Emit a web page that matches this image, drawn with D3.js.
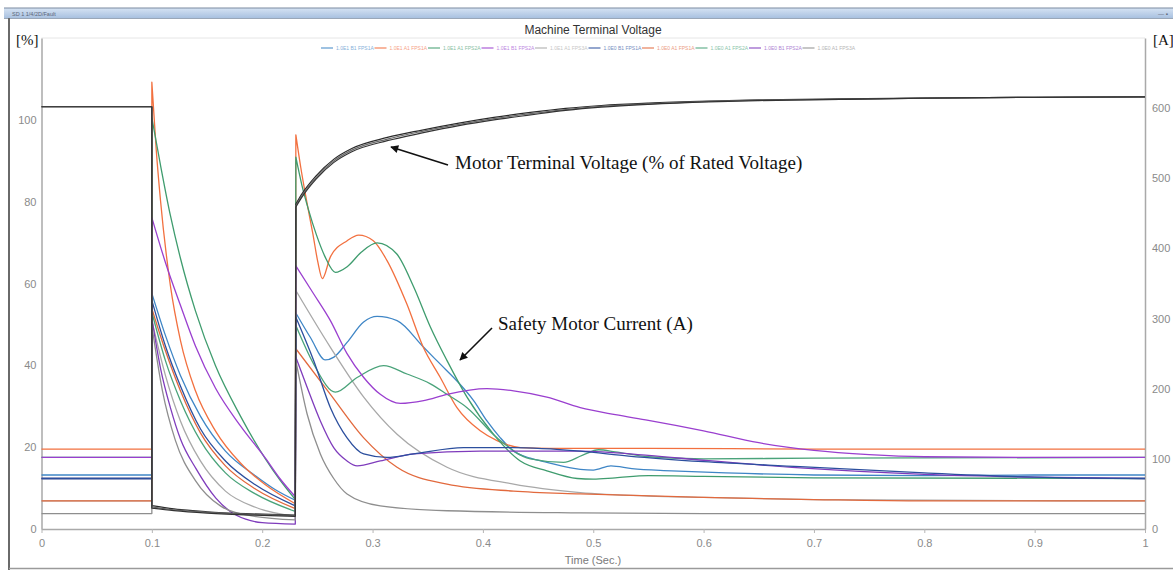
<!DOCTYPE html>
<html><head><meta charset="utf-8">
<script src="https://cdn.jsdelivr.net/npm/d3@7"></script>
<style>
body{margin:0;background:#fff;}
svg{display:block;}
</style>
</head><body>
<svg id="chart" width="1173" height="570"></svg>
<script>
// ---- axis ticks ----
const timeTicks = [0, 0.1, 0.2, 0.3, 0.4, 0.5, 0.6, 0.7, 0.8, 0.9, 1];
const timeTickLabels = ["0", "0.1", "0.2", "0.3", "0.4", "0.5", "0.6", "0.7", "0.8", "0.9", "1"];
const percentTicks = [0, 20, 40, 60, 80, 100];
const ampTicks = [0, 100, 200, 300, 400, 500, 600];

// ---- legend ----
const seriesNames = ["1.0E1 B1 FPS1A", "1.0E1 A1 FPS1A", "1.0E1 A1 FPS2A", "1.0E1 B1 FPS2A", "1.0E1 A1 FPS3A",
                     "1.0E0 B1 FPS1A", "1.0E0 A1 FPS1A", "1.0E0 A1 FPS2A", "1.0E0 B1 FPS2A", "1.0E0 A1 FPS3A"];
const seriesColors = ["#3f86c6", "#f2703f", "#3f9c6e", "#9a3fcf", "#a8a8a8",
                      "#2c4f9e", "#e2693d", "#4aa37a", "#7f3cbc", "#8e8e8e"];
// stacking order of the current traces (last one on top)
const drawOrder = [0, 1, 2, 4, 6, 7, 3, 8, 5, 9];

// ---- motor currents [A]: steady value before the fault ----
const preFaultAmps = [77, 114, 72, 102, 40, 72, 40, 102, 72, 22];

// ---- motor currents [A] during the fault, [time s, A] ----
const faultAmps = [
  [[0.1,336],[0.1123,276],[0.1259,219],[0.144,161],[0.1667,111],[0.1938,76],[0.212,56],[0.23,41]],
  [[0.1,637],[0.104,540],[0.1078,469],[0.1168,347],[0.1259,269],[0.1395,197],[0.1576,140],[0.1803,94],[0.2029,63],[0.23,36]],
  [[0.1,586],[0.1078,519],[0.1168,447],[0.1259,386],[0.1395,311],[0.1576,233],[0.1803,161],[0.2029,100],[0.216,70],[0.23,42]],
  [[0.1,444],[0.1123,380],[0.1259,319],[0.1395,261],[0.1576,201],[0.1803,147],[0.2029,101],[0.216,72],[0.23,46]],
  [[0.1,297],[0.1123,219],[0.1259,154],[0.144,97],[0.1667,54],[0.1938,31],[0.23,18]],
  [[0.1,326],[0.1123,261],[0.1259,204],[0.144,143],[0.1667,97],[0.1938,63],[0.23,33]],
  [[0.1,314],[0.1123,254],[0.1259,197],[0.144,137],[0.1667,90],[0.1938,57],[0.23,29]],
  [[0.1,309],[0.1123,240],[0.1259,183],[0.144,126],[0.1667,80],[0.1938,50],[0.23,25]],
  [[0.1,300],[0.108,228],[0.117,172],[0.126,128],[0.14,86],[0.158,44],[0.171,25],[0.185,14],[0.2,9],[0.23,7]],
  [[0.1,290],[0.1096,197],[0.1214,126],[0.1395,69],[0.1621,33],[0.1893,19],[0.23,13]]
];

// ---- motor currents [A] after fault clearing, [time s, A] ----
const postAmps = [
  [[0.2305,308],[0.2437,273],[0.2572,241],[0.265,245],[0.2769,266],[0.2919,295],[0.3041,303],[0.3222,297],[0.3463,259],[0.3614,235],[0.3765,211],[0.3916,183],[0.4037,154],[0.4158,130],[0.4278,111],[0.443,101],[0.458,95],[0.4882,85],[0.5,84],[0.516,90],[0.535,86],[0.571,83],[0.62,80],[0.7,77],[0.8,76],[0.9,77],[1,77]],
  [[0.2305,562],[0.235,515],[0.24,470],[0.246,420],[0.2505,380],[0.2545,357],[0.2618,388],[0.277,411],[0.2874,419],[0.3007,411],[0.313,383],[0.331,321],[0.346,259],[0.3614,216],[0.3765,173],[0.3976,140],[0.4128,126],[0.434,116],[0.46,115],[0.55,115],[0.7,114],[1,114]],
  [[0.2305,530],[0.236,490],[0.242,455],[0.249,420],[0.257,388],[0.2663,366],[0.277,374],[0.29,395],[0.3041,408],[0.322,392],[0.3373,345],[0.3524,288],[0.3675,240],[0.3856,188],[0.4097,135],[0.4339,97],[0.458,83],[0.4855,72],[0.5,71],[0.52,73],[0.55,76],[0.6,75],[0.7,73],[1,72]],
  [[0.2305,375],[0.2467,335],[0.2618,297],[0.2769,250],[0.292,216],[0.307,192],[0.3252,179],[0.3463,183],[0.3675,192],[0.4037,200],[0.4278,197],[0.458,188],[0.4882,173],[0.52,163],[0.55,155],[0.6,140],[0.65,123],[0.7,112],[0.75,106],[0.8,103],[0.9,102],[1,102]],
  [[0.2305,340],[0.2618,259],[0.292,188],[0.3222,135],[0.3675,88],[0.4278,64],[0.4882,52],[0.55,47],[0.6,45],[0.7,42],[0.8,41],[1,40]],
  [[0.2305,302],[0.2467,240],[0.2618,173],[0.2769,130],[0.292,107],[0.313,102],[0.3373,107],[0.3825,116],[0.4278,116],[0.4882,111],[0.532,104],[0.6,96],[0.6875,89],[0.8,80],[0.9,74],[1,72]],
  [[0.2305,257],[0.2618,192],[0.292,130],[0.3222,88],[0.3675,64],[0.4278,54],[0.4882,50],[0.6,45],[0.7,42],[0.8,40],[1,40]],
  [[0.2305,290],[0.2467,235],[0.2663,195],[0.286,216],[0.31,233],[0.3312,221],[0.3524,207],[0.3675,192],[0.3856,173],[0.4128,130],[0.443,100],[0.4731,95],[0.49,105],[0.505,113],[0.52,110],[0.55,103],[0.6,100],[0.7,101],[1,102]],
  [[0.2305,245],[0.2407,202],[0.2527,154],[0.2648,116],[0.2769,97],[0.286,90],[0.307,97],[0.3373,107],[0.3976,111],[0.4882,111],[0.55,105],[0.6,98],[0.6875,87],[0.8,78],[0.9,74],[1,72]],
  [[0.2305,240],[0.2407,164],[0.2527,107],[0.2648,72],[0.2769,50],[0.307,33],[0.3675,26],[0.4882,23],[0.6,22],[1,22]]
];

// ---- motor terminal voltage [% of rated] ----
const preFaultVolts = [103.2, 103.2, 103.2];
const faultVolts = [
  [[0.1,5.7],[0.12,4.9],[0.15,4.2],[0.19,3.7],[0.23,3.4]],
  [[0.1,5.4],[0.12,4.7],[0.15,4.1],[0.19,3.6],[0.23,3.3]],
  [[0.1,5.1],[0.12,4.5],[0.15,3.9],[0.19,3.4],[0.23,3.1]]
];
const postVolts = [
  [[0.2305,79.4],[0.236,81.9],[0.2488,86.3],[0.265,90.4],[0.2812,93.0],[0.3134,95.7],[0.345,97.5],[0.3783,99.2],[0.41,100.6],[0.443,101.8],[0.475,102.8],[0.5072,103.5],[0.55,104.1],[0.6047,104.6],[0.65,104.9],[0.7237,105.1],[0.8,105.3],[0.9,105.5],[1,105.6]],
  [[0.2305,79.0],[0.236,81.5],[0.2488,85.9],[0.265,90.0],[0.2812,92.6],[0.3134,95.3],[0.345,97.2],[0.3783,98.9],[0.41,100.3],[0.443,101.5],[0.475,102.5],[0.5072,103.3],[0.55,103.9],[0.6047,104.5],[0.65,104.8],[0.7237,105.0],[0.8,105.3],[0.9,105.5],[1,105.6]],
  [[0.2305,78.7],[0.236,81.1],[0.2488,85.5],[0.265,89.6],[0.2812,92.2],[0.3134,94.9],[0.345,96.8],[0.3783,98.6],[0.41,100.0],[0.443,101.2],[0.475,102.3],[0.5072,103.1],[0.55,103.8],[0.6047,104.4],[0.65,104.7],[0.7237,105.0],[0.8,105.3],[0.9,105.5],[1,105.6]]
];
const voltColors = ["#2a2a2a", "#6a6a6a", "#333333"];

// ---- layout ----
const svg = d3.select("#chart");
const plot = {left: 41.5, right: 1145, top: 38, bottom: 529};
const x = d3.scaleLinear().domain([0, 1]).range([plot.left, plot.right]);
const yPct = d3.scaleLinear().domain([0, 120]).range([plot.bottom, plot.top]);
const yAmp = d3.scaleLinear().domain([0, 700]).range([plot.bottom, plot.top]);
const sans = "Liberation Sans, Arial, sans-serif";
const serif = "Liberation Serif, Times New Roman, serif";

// window frame
const defs = svg.append("defs");
const grad = defs.append("linearGradient").attr("id", "bar").attr("x1", 0).attr("y1", 0).attr("x2", 0).attr("y2", 1);
grad.append("stop").attr("offset", "0%").attr("stop-color", "#d6e3f3");
grad.append("stop").attr("offset", "100%").attr("stop-color", "#a9c1e0");
svg.append("rect").attr("x", 4).attr("y", 8).attr("width", 1169).attr("height", 10).attr("fill", "url(#bar)");
svg.append("line").attr("x1", 4).attr("x2", 1173).attr("y1", 8).attr("y2", 8).attr("stroke", "#7a8aa0").attr("stroke-width", 1);
svg.append("line").attr("x1", 4).attr("x2", 1173).attr("y1", 18.5).attr("y2", 18.5).attr("stroke", "#9aa7b8").attr("stroke-width", 1);
svg.append("text").attr("x", 12).attr("y", 15.5).attr("font-family", sans).attr("font-size", 5.5).attr("fill", "#5a6578").text("SD 1 1/4/2D/Fault");
svg.append("text").attr("x", 1158).attr("y", 15.5).attr("font-family", sans).attr("font-size", 6).attr("fill", "#5a6578").text("— ▪");
svg.append("line").attr("x1", 9).attr("x2", 9).attr("y1", 18).attr("y2", 570).attr("stroke", "#6a6a6a").attr("stroke-width", 2);
svg.append("line").attr("x1", 9).attr("x2", 1173).attr("y1", 568.5).attr("y2", 568.5).attr("stroke", "#9a9a9a").attr("stroke-width", 1.5);

// plot top border
svg.append("line").attr("x1", plot.left).attr("x2", plot.right).attr("y1", plot.top).attr("y2", plot.top)
  .attr("stroke", "#e6e6e6").attr("stroke-width", 1);

// title and units
svg.append("text").attr("x", 593).attr("y", 34).attr("text-anchor", "middle").attr("font-family", sans)
  .attr("font-size", 12).attr("fill", "#333").text("Machine Terminal Voltage");
svg.append("text").attr("x", 16).attr("y", 45).attr("font-family", serif).attr("font-size", 15).attr("fill", "#111").text("[%]");
svg.append("text").attr("x", 1153).attr("y", 45).attr("font-family", serif).attr("font-size", 15).attr("fill", "#111").text("[A]");

// legend
const legend = svg.append("g").attr("transform", "translate(321,48)");
seriesNames.forEach((name, i) => {
  const g = legend.append("g").attr("transform", `translate(${i * 53.5},0)`);
  g.append("line").attr("x1", 0).attr("x2", 12).attr("y1", 0).attr("y2", 0)
    .attr("stroke", seriesColors[i]).attr("stroke-width", 2).attr("opacity", 0.5);
  g.append("text").attr("x", 15).attr("y", 1.8).attr("font-family", sans).attr("font-size", 5)
    .attr("fill", seriesColors[i]).attr("opacity", 0.65).text(name);
});

// axes
function styleAxis(g) {
  g.select(".domain").attr("stroke", "#a9a9a9").attr("stroke-width", 1.5);
  g.selectAll(".tick line").attr("stroke", "#b5b5b5");
  g.selectAll(".tick text").attr("fill", "#8a8a8a").attr("font-family", sans).attr("font-size", 11);
}
svg.append("g").attr("transform", `translate(0,${plot.bottom})`)
  .call(d3.axisBottom(x).tickValues(timeTicks).tickFormat((d, i) => timeTickLabels[i]).tickSize(4).tickSizeOuter(0).tickPadding(6))
  .call(styleAxis);
svg.append("g").attr("transform", `translate(${plot.left},0)`)
  .call(d3.axisLeft(yPct).tickValues(percentTicks).tickSize(0).tickSizeOuter(0).tickPadding(5))
  .call(styleAxis);
svg.append("g").attr("transform", `translate(${plot.right},0)`)
  .call(d3.axisRight(yAmp).tickValues(ampTicks).tickSize(0).tickSizeOuter(0).tickPadding(7))
  .call(styleAxis);
svg.append("text").attr("x", 593).attr("y", 564).attr("text-anchor", "middle").attr("font-family", sans)
  .attr("font-size", 11).attr("fill", "#7a7a7a").text("Time (Sec.)");

// joins the pre-fault, fault and post-fault pieces; the jumps between them are straight
function tracePath(yScale, pre, fault, post) {
  const line = d3.line().x(d => x(d[0])).y(d => yScale(d[1])).curve(d3.curveMonotoneX);
  const flat = d3.line().x(d => x(d[0])).y(d => yScale(d[1]));
  const parts = [flat([[0, pre], [0.1, pre]]), line(fault), line(post)];
  return parts.map((p, i) => i === 0 ? p : "L" + p.slice(1)).join("");
}

const traces = svg.append("g").attr("fill", "none");
drawOrder.forEach(i => {
  traces.append("path").attr("d", tracePath(yAmp, preFaultAmps[i], faultAmps[i], postAmps[i]))
    .attr("stroke", seriesColors[i]).attr("stroke-width", 1.3).attr("stroke-linejoin", "round");
});
preFaultVolts.forEach((v, i) => {
  traces.append("path").attr("d", tracePath(yPct, v, faultVolts[i], postVolts[i]))
    .attr("stroke", voltColors[i]).attr("stroke-width", 1.2).attr("stroke-linejoin", "round");
});

// callouts
defs.append("marker").attr("id", "head").attr("viewBox", "0 0 10 10").attr("refX", 9).attr("refY", 5)
  .attr("markerWidth", 11).attr("markerHeight", 8).attr("markerUnits", "userSpaceOnUse").attr("orient", "auto")
  .append("path").attr("d", "M0,0L10,5L0,10Z").attr("fill", "#111");
svg.append("line").attr("x1", 448).attr("y1", 165).attr("x2", 391).attr("y2", 147)
  .attr("stroke", "#111").attr("stroke-width", 1.6).attr("marker-end", "url(#head)");
svg.append("text").attr("x", 455).attr("y", 169).attr("font-family", serif).attr("font-size", 19).attr("fill", "#111")
  .text("Motor Terminal Voltage (% of Rated Voltage)");
svg.append("line").attr("x1", 492).attr("y1", 328).attr("x2", 460).attr("y2", 360)
  .attr("stroke", "#111").attr("stroke-width", 1.6).attr("marker-end", "url(#head)");
svg.append("text").attr("x", 498).attr("y", 330).attr("font-family", serif).attr("font-size", 19).attr("fill", "#111")
  .text("Safety Motor Current (A)");
</script>
</body></html>
